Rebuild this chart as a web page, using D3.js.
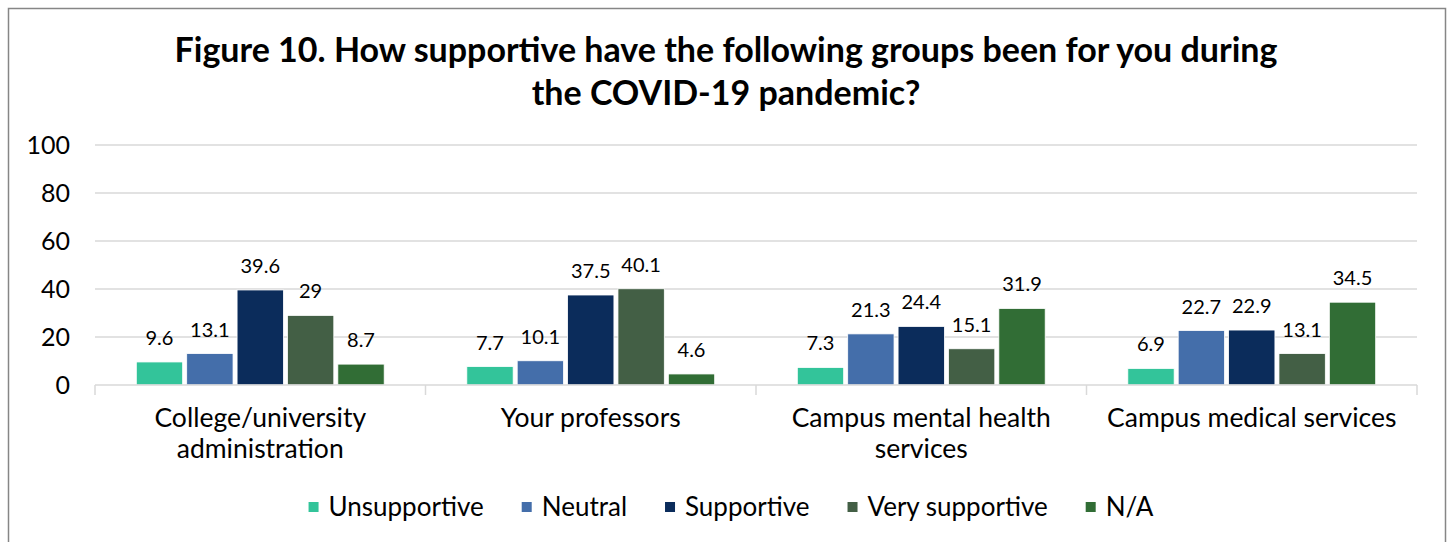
<!DOCTYPE html>
<html>
<head>
<meta charset="utf-8">
<script src="https://cdn.jsdelivr.net/npm/d3@7"></script>
<style>
  html, body { margin: 0; padding: 0; background: #fff; }
  svg { display: block; font-family: Lato, "Open Sans", sans-serif; }
</style>
</head>
<body>
<svg id="chart" width="1448" height="542"></svg>
<script>
const titleLines = ["Figure 10. How supportive have the following groups been for you during", "the COVID-19 pandemic?"];
const categories = ["College/university administration", "Your professors", "Campus mental health services", "Campus medical services"];
const categoryLines = [["College/university", "administration"], ["Your professors"], ["Campus mental health", "services"], ["Campus medical services"]];
const seriesNames = ["Unsupportive", "Neutral", "Supportive", "Very supportive", "N/A"];
const seriesColors = ["#33c49a", "#446eaa", "#0b2c5b", "#435f45", "#316d35"];
const unsupportive = [9.6, 7.7, 7.3, 6.9];
const neutral = [13.1, 10.1, 21.3, 22.7];
const supportive = [39.6, 37.5, 24.4, 22.9];
const verySupportive = [29, 40.1, 15.1, 13.1];
const na = [8.7, 4.6, 31.9, 34.5];
const yTicks = [0, 20, 40, 60, 80, 100];

const seriesValues = [unsupportive, neutral, supportive, verySupportive, na];

const svg = d3.select("#chart");

// Frame
svg.append("rect").attr("x", 8.5).attr("y", 8.5).attr("width", 1437).attr("height", 560)
  .attr("fill", "none").attr("stroke", "#868686").attr("stroke-width", 1.5);

// Title
svg.append("g").selectAll("text").data(titleLines).join("text")
  .attr("x", 726).attr("y", (d, i) => 62 + i * 43)
  .attr("text-anchor", "middle").attr("font-weight", "bold").attr("font-size", 34)
  .attr("fill", "#000").text(d => d);

const plotLeft = 95, plotRight = 1417, plotTop = 145, plotBottom = 385;

const y = d3.scaleLinear().domain([0, 100]).range([plotBottom, plotTop]);
const x0 = d3.scaleBand().domain(categories).range([plotLeft, plotRight]).paddingInner(0).paddingOuter(0);
const x1 = d3.scaleBand().domain(seriesNames).range([0, x0.bandwidth()]).paddingInner(0.08).paddingOuter(0.82);
const color = d3.scaleOrdinal().domain(seriesNames).range(seriesColors);

// Gridlines
svg.append("g").selectAll("line").data(yTicks.filter(t => t > 0)).join("line")
  .attr("x1", plotLeft).attr("x2", plotRight)
  .attr("y1", d => y(d)).attr("y2", d => y(d))
  .attr("stroke", "#d9d9d9").attr("stroke-width", 1.5);

// Y axis labels
const yAxis = d3.axisLeft(y).tickValues(yTicks).tickSize(0).tickPadding(0);
const yg = svg.append("g").attr("transform", `translate(70,0)`).call(yAxis);
yg.select(".domain").remove();
yg.selectAll("text").attr("font-family", "Lato, sans-serif").attr("font-size", 25).attr("fill", "#000");

// Bars
const rows = [];
categories.forEach((c, ci) => {
  seriesNames.forEach((s, si) => rows.push({ c, s, v: seriesValues[si][ci] }));
});
const bars = svg.append("g");
bars.selectAll("rect").data(rows).join("rect")
  .attr("x", d => x0(d.c) + x1(d.s))
  .attr("y", d => y(d.v))
  .attr("width", x1.bandwidth())
  .attr("height", d => y(0) - y(d.v))
  .attr("fill", d => color(d.s))
  .attr("stroke", "#ffffff").attr("stroke-width", 0.8);

// Data labels
svg.append("g").selectAll("text").data(rows).join("text")
  .attr("x", d => x0(d.c) + x1(d.s) + x1.bandwidth() / 2)
  .attr("y", d => y(d.v) - 17)
  .attr("text-anchor", "middle").attr("font-size", 20).attr("fill", "#000")
  .text(d => d.v);

// X axis line and ticks
const xg = svg.append("g");
xg.append("line").attr("x1", plotLeft).attr("x2", plotRight).attr("y1", y(0)).attr("y2", y(0))
  .attr("stroke", "#d9d9d9").attr("stroke-width", 1.5);
const boundaries = categories.map(c => x0(c)).concat([plotRight]);
xg.selectAll("line.tick").data(boundaries).join("line").attr("class", "tick")
  .attr("x1", d => d).attr("x2", d => d).attr("y1", y(0)).attr("y2", y(0) + 10)
  .attr("stroke", "#d9d9d9").attr("stroke-width", 1.5);

// Category labels
categories.forEach((c, ci) => {
  svg.append("text")
    .attr("x", x0(c) + x0.bandwidth() / 2)
    .attr("text-anchor", "middle").attr("font-size", 26.5).attr("fill", "#000")
    .selectAll("tspan").data(categoryLines[ci]).join("tspan")
    .attr("x", x0(c) + x0.bandwidth() / 2)
    .attr("y", (d, i) => 427 + i * 31)
    .text(d => d);
});

// Legend
const legend = svg.append("g");
const items = legend.selectAll("g").data(seriesNames).join("g");
items.append("rect").attr("width", 10).attr("height", 10).attr("y", 502).attr("fill", d => color(d));
items.append("text").attr("x", 20).attr("y", 516).attr("font-size", 26).attr("fill", "#000").text(d => d);
const widths = [];
items.each(function () {
  const w = d3.select(this).select("text").node().getComputedTextLength();
  widths.push(20 + w);
});
const gap = 38;
const total = d3.sum(widths) + gap * (widths.length - 1);
let start = 731 - total / 2;
items.attr("transform", (d, i) => {
  const t = `translate(${start},0)`;
  start += widths[i] + gap;
  return t;
});
</script>
</body>
</html>
